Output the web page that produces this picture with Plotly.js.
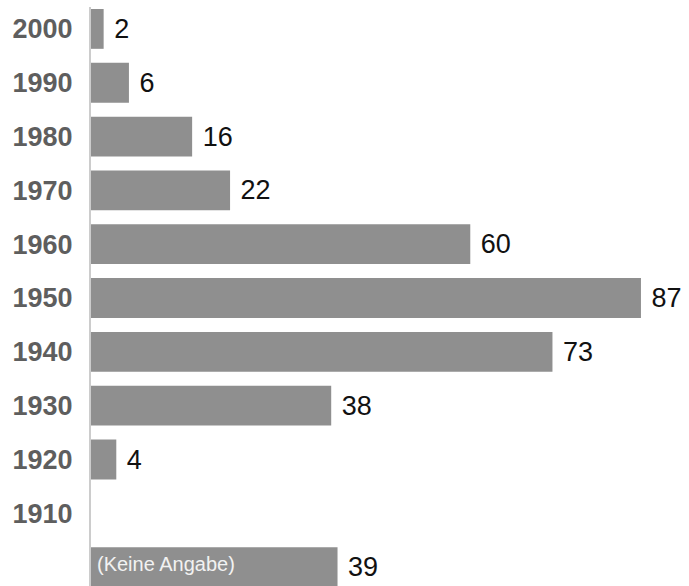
<!DOCTYPE html>
<html>
<head>
<meta charset="utf-8">
<script src="https://cdn.plot.ly/plotly-3.0.1.min.js"></script>
<style>html,body{margin:0;padding:0;background:#fff;overflow:hidden}#chart{width:689px;height:586px}</style>
</head>
<body>
<div id="chart"></div>
<script>
const categories = ["2000","1990","1980","1970","1960","1950","1940","1930","1920","1910","(Keine Angabe)"];
const tickLabels = ["2000","1990","1980","1970","1960","1950","1940","1930","1920","1910",""];
const values = [2, 6, 16, 22, 60, 87, 73, 38, 4, null, 39];
const insideLabelCategory = "(Keine Angabe)";

const trace = {
  type: "bar",
  orientation: "h",
  y: categories,
  x: values,
  marker: {color: "#8f8f8f"},
  text: values.map(v => v == null ? "" : " " + v),
  textposition: "outside",
  cliponaxis: false,
  textfont: {family: "Liberation Sans, Arial, sans-serif", size: 27, color: "#111"},
  hoverinfo: "none"
};

const layout = {
  width: 689, height: 586,
  margin: {l: 91, r: 0, t: 7, b: 0},
  paper_bgcolor: "#fff", plot_bgcolor: "#fff",
  bargap: 0.26,
  showlegend: false,
  xaxis: {range: [0, 94.6], visible: false, fixedrange: true},
  yaxis: {
    type: "category",
    categoryorder: "array", categoryarray: categories,
    range: [10.35, -0.407],
    autorange: false,
    tickmode: "array", tickvals: categories, ticktext: tickLabels,
    ticks: "", showgrid: false, zeroline: false,
    showline: true, linecolor: "#cccccc", linewidth: 2,
    ticklabelstandoff: 11,
    automargin: false,
    tickfont: {family: "Liberation Sans, Arial, sans-serif", size: 27, color: "#5e5e5e", weight: "bold"}
  },
  annotations: [{
    x: 0, y: insideLabelCategory, xref: "x", yref: "y",
    text: insideLabelCategory, showarrow: false,
    xanchor: "left", xshift: 4, yshift: 3,
    font: {family: "Liberation Sans, Arial, sans-serif", size: 20, color: "#f2f2f2"}
  }]
};

Plotly.newPlot("chart", [trace], layout, {staticPlot: true, displayModeBar: false});
</script>
</body>
</html>
